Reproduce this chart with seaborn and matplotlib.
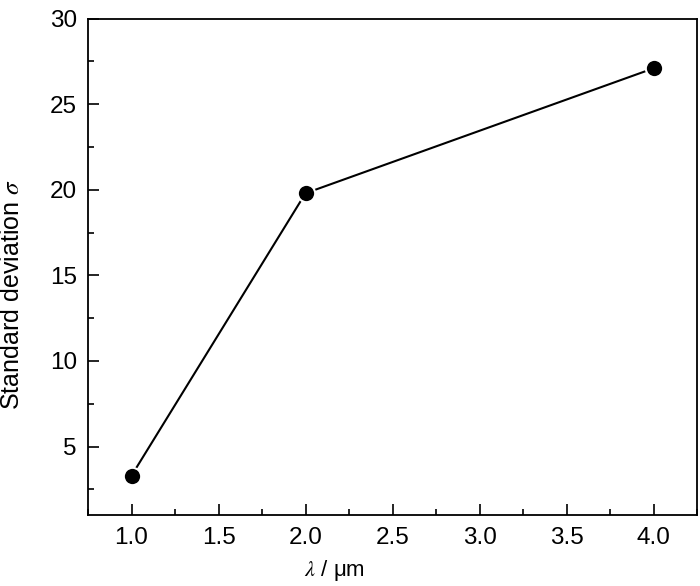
import matplotlib
matplotlib.use("Agg")
import matplotlib.pyplot as plt
from matplotlib.ticker import MultipleLocator
import seaborn as sns
import pandas as pd

wavelength = [1.0, 2.0, 4.0]
std_dev = [3.3, 19.8, 27.1]

sns.set_style("ticks")
plt.rcParams['font.family'] = ['Liberation Sans', 'DejaVu Sans']
plt.rcParams['mathtext.fontset'] = 'stix'
plt.rcParams['text.color'] = 'black'
plt.rcParams['axes.labelcolor'] = 'black'

df = pd.DataFrame({"wavelength": wavelength, "std": std_dev})

fig = plt.figure(figsize=(7.0, 5.86), dpi=100)
ax = fig.add_axes([88/700, 1 - 515/586, (697-88)/700, (515-18.7)/586])

sns.lineplot(data=df, x="wavelength", y="std", ax=ax, color="black", lw=1.5,
             marker="o", markersize=12.5, markerfacecolor="black",
             markeredgecolor="white", markeredgewidth=1.5)

ax.set_xlim(0.75, 4.25)
ax.set_ylim(1, 30)
ax.xaxis.set_major_locator(MultipleLocator(0.5))
ax.xaxis.set_minor_locator(MultipleLocator(0.25))
ax.yaxis.set_major_locator(MultipleLocator(5))
ax.yaxis.set_minor_locator(MultipleLocator(2.5))
ax.set_xticks([1.0, 1.5, 2.0, 2.5, 3.0, 3.5, 4.0])
ax.set_xticklabels(["1.0", "1.5", "2.0", "2.5", "3.0", "3.5", "4.0"])
ax.set_yticks([5, 10, 15, 20, 25, 30])

ax.tick_params(axis="both", which="major", direction="in", length=8, width=1.2,
               labelsize=17.5, colors="black")
ax.tick_params(axis="y", which="major", pad=8)
ax.tick_params(axis="x", which="major", pad=9)
ax.tick_params(axis="both", which="minor", direction="in", length=4, width=1.2,
               colors="black")
ax.tick_params(top=False, right=False, which="both")
for s in ax.spines.values():
    s.set_visible(True)
    s.set_linewidth(1.3)
    s.set_color("black")

ax.set_xlabel(r"$\lambda$ / μm", fontsize=16, color="black")
ax.set_ylabel(r"Standard deviation $\sigma$", fontsize=18, color="black")
ax.xaxis.set_label_coords(0.405, -0.087)
ax.yaxis.set_label_coords(-0.105, 0.444)

fig.savefig("out.png", dpi=100)
